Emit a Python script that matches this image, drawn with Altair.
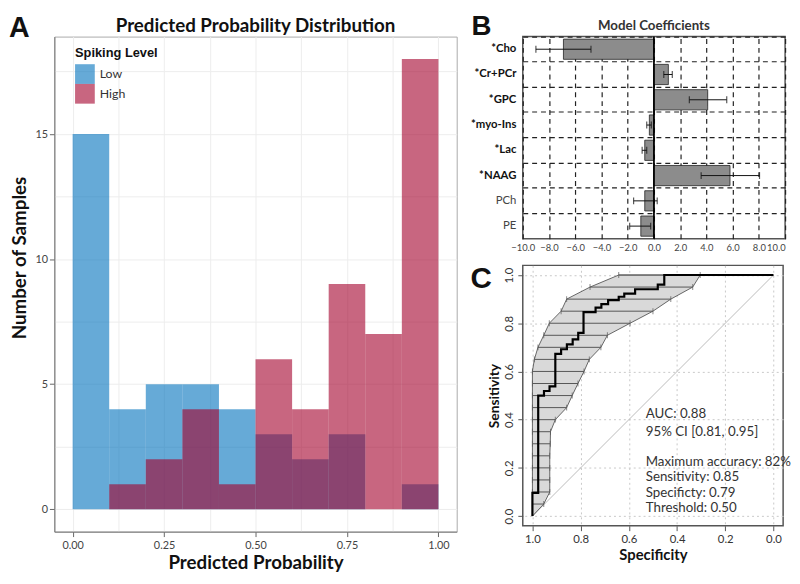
import altair as alt
import pandas as pd

# ---------------- Panel A: histogram data ----------------
bin_start = [0.0, 0.1, 0.2, 0.3, 0.4, 0.5, 0.6, 0.7, 0.8, 0.9]
bin_end = [0.1, 0.2, 0.3, 0.4, 0.5, 0.6, 0.7, 0.8, 0.9, 1.0]
low_counts = [15, 4, 5, 5, 4, 3, 2, 3, 0, 1]
high_counts = [0, 1, 2, 4, 1, 6, 4, 9, 7, 18]
levels = ["Low", "High"]
level_colors = ["#0071bc", "#a3002c"]
x_ticks_a = [0.0, 0.125, 0.25, 0.375, 0.5, 0.625, 0.75, 0.875, 1.0]
y_ticks_a = [0, 2.5, 5, 7.5, 10, 12.5, 15, 17.5]

# ---------------- Panel B: coefficients ----------------
metabolites = ["*Cho", "*Cr+PCr", "*GPC", "*myo-Ins", "*Lac", "*NAAG", "PCh", "PE"]
coefs = [-6.9, 1.1, 4.1, -0.35, -0.7, 5.8, -0.7, -1.0]
err_lo = [-9.0, 0.75, 2.7, -0.55, -0.9, 3.6, -1.55, -1.85]
err_hi = [-4.8, 1.4, 5.55, -0.2, -0.55, 8.05, 0.25, -0.25]
x_ticks_b = [-10, -8, -6, -4, -2, 0, 2, 4, 6, 8, 10]

# ---------------- Panel C: ROC ----------------
roc_spec = [1.000, 1.000, 0.976, 0.976, 0.952, 0.952, 0.929, 0.929, 0.905, 0.905,
            0.881, 0.881, 0.857, 0.857, 0.833, 0.833, 0.810, 0.810, 0.788, 0.788,
            0.738, 0.738, 0.714, 0.714, 0.686, 0.686, 0.642, 0.642, 0.619, 0.619,
            0.574, 0.574, 0.480, 0.480, 0.453, 0.453, 0.000]
roc_sens = [0.000, 0.096, 0.096, 0.500, 0.500, 0.519, 0.519, 0.538, 0.538, 0.673,
            0.673, 0.692, 0.692, 0.712, 0.712, 0.733, 0.733, 0.760, 0.760, 0.846,
            0.846, 0.865, 0.865, 0.879, 0.879, 0.896, 0.896, 0.910, 0.910, 0.923,
            0.923, 0.941, 0.941, 0.960, 0.960, 1.000, 1.000]
ci_sens = [0.00, 0.05, 0.10, 0.15, 0.20, 0.25, 0.30, 0.35, 0.40, 0.45, 0.50,
           0.55, 0.60, 0.65, 0.70, 0.75, 0.80, 0.85, 0.90, 0.95, 1.00]
ci_spec_hi = [1.0, 1.0, 1.0, 1.0, 1.0, 1.0, 1.0, 1.0, 1.0, 1.0, 1.0,
              1.0, 1.0, 0.992, 0.977, 0.953, 0.930, 0.881, 0.858, 0.761, 0.642]
ci_spec_lo = [1.0, 0.953, 0.928, 0.928, 0.928, 0.928, 0.926, 0.925, 0.905, 0.858, 0.835,
              0.811, 0.786, 0.764, 0.716, 0.689, 0.595, 0.500, 0.426, 0.335, 0.304]
ann_lines = ["AUC: 0.88", "95% CI [0.81, 0.95]", "Maximum accuracy: 82%",
             "Sensitivity: 0.85", "Specificty: 0.79", "Threshold: 0.50"]
ann_sens = [0.425, 0.350, 0.226, 0.162, 0.097, 0.034]
ann_spec = [0.53, 0.53, 0.53, 0.53, 0.53, 0.53]
ticks_c = [0.0, 0.2, 0.4, 0.6, 0.8, 1.0]

FONT = "Lato"
WA, HA = 408, 502
WB, HB = 266, 205
WC, HC = 264, 264


def label_mark(text, x, y, size, weight="bold", font="Liberation Sans",
               align="left", color="#111"):
    return alt.Chart(pd.DataFrame({"t": [text]})).mark_text(
        font=font, fontSize=size, fontWeight=weight, align=align,
        baseline="middle", color=color
    ).encode(x=alt.value(x), y=alt.value(y), text="t:N")


# ================= Panel A =================
rows = []
for lvl, counts in (("Low", low_counts), ("High", high_counts)):
    for s, e, c in zip(bin_start, bin_end, counts):
        rows.append({"start": s, "end": e, "count": c, "level": lvl})
hist_df = pd.DataFrame(rows)

hist = alt.Chart(hist_df).mark_rect(opacity=0.6).encode(
    x=alt.X("start:Q",
            scale=alt.Scale(domain=[-0.05, 1.05], nice=False, zero=False),
            axis=alt.Axis(values=x_ticks_a, title="Predicted Probability",
                          labelExpr="(datum.value*4) % 1 == 0 ? format(datum.value, '.2f') : ''",
                          tickColor={"condition": {"test": "(datum.value*4) % 1 != 0", "value": "transparent"}, "value": "#666"},
                          gridColor="#ededed", tickSize=5, labelPadding=3,
                          labelFontSize=11, labelColor="#444", domainColor="#777",
                          titleFontSize=19, titleFontWeight="bold", titleColor="#111",
                          titlePadding=3)),
    x2="end:Q",
    y=alt.Y("count:Q",
            scale=alt.Scale(domain=[-0.9, 18.9], nice=False, zero=False),
            axis=alt.Axis(values=y_ticks_a, title="Number of Samples",
                          labelExpr="datum.value % 5 == 0 ? format(datum.value, 'd') : ''",
                          tickColor={"condition": {"test": "datum.value % 5 != 0", "value": "transparent"}, "value": "#666"},
                          gridColor="#ededed", tickSize=5, labelPadding=2,
                          labelFontSize=11, labelColor="#444", domainColor="#777",
                          titleFontSize=19, titleFontWeight="bold", titleColor="#111",
                          titlePadding=5, titleY=224)),
    y2=alt.datum(0),
    color=alt.Color("level:N",
                    scale=alt.Scale(domain=levels, range=level_colors),
                    sort=levels,
                    legend=alt.Legend(title="Spiking Level", orient="none",
                                      legendX=21, legendY=11,
                                      symbolType="square", symbolSize=400,
                                      symbolOpacity=0.6, symbolStrokeWidth=0,
                                      rowPadding=0, padding=0,
                                      titleFont="Liberation Sans", titleFontSize=13,
                                      titleFontWeight="bold", titleColor="#111",
                                      titlePadding=4,
                                      labelFontSize=12.5, labelColor="#333",
                                      labelOffset=5)),
)

panel_a = alt.layer(
    hist,
    label_mark("A", -46, -9, 29),
    label_mark("Predicted Probability Distribution", WA / 2, -11, 19,
               font=FONT, align="center"),
).properties(
    width=WA, height=HA,
    view=alt.ViewBackground(stroke="#aaa", strokeWidth=1),
)

# ================= Panel B =================
coef_df = pd.DataFrame({"name": metabolites, "coef": coefs, "lo": err_lo, "hi": err_hi})
bold_test = "indexof(datum.label, '*') == 0"
ax_y_b = alt.Axis(title=None, ticks=False, domain=False, labelPadding=7,
                  labelFontSize=11.5, labelFont=FONT,
                  labelFontWeight={"condition": {"test": bold_test, "value": "bold"}, "value": "normal"},
                  labelColor={"condition": {"test": bold_test, "value": "#111"}, "value": "#444"},
                  grid=True, bandPosition=0, gridColor="#222",
                  gridDash=[5, 4], gridWidth=1.2)
ax_x_b = alt.Axis(values=x_ticks_b, format=".1f", title=None, ticks=False,
                  domain=False, labelPadding=4, labelFontSize=9.5,
                  labelColor="#444", labelFont=FONT, labelOverlap=False,
                  labelAlign={"condition": {"test": "datum.value == 10", "value": "right"}, "value": "center"},
                  grid=True, gridColor="#222", gridDash=[5, 4], gridWidth=1.2)
sc_y_b = alt.Scale(paddingInner=0, paddingOuter=0)
sc_x_b = alt.Scale(domain=[-10, 10], nice=False)


def yb():
    return alt.Y("name:N", sort=metabolites, scale=sc_y_b, axis=ax_y_b)


def xb(field):
    return alt.X(field, scale=sc_x_b, axis=ax_x_b)


bars = alt.Chart(coef_df).mark_bar(
    height=alt.RelativeBandSize(0.8), color="#8c8c8c", stroke="#222", strokeWidth=0.8
).encode(x=xb("coef:Q"), y=yb())
err_rule = alt.Chart(coef_df).mark_rule(color="#111", strokeWidth=1).encode(
    x=xb("lo:Q"), x2="hi:Q", y=yb())
cap_lo = alt.Chart(coef_df).mark_tick(color="#111", size=7, thickness=1.2, orient="vertical").encode(
    x=xb("lo:Q"), y=yb())
cap_hi = alt.Chart(coef_df).mark_tick(color="#111", size=7, thickness=1.2, orient="vertical").encode(
    x=xb("hi:Q"), y=yb())
zero_b = alt.Chart(pd.DataFrame({"z": [0]})).mark_rule(color="#000", strokeWidth=1.8).encode(
    x=xb("z:Q"))

panel_b = alt.layer(
    bars, err_rule, cap_lo, cap_hi, zero_b,
    label_mark("B", -52, -10, 28),
    label_mark("Model Coefficients", WB / 2, -11, 13.5, font=FONT, align="center",
               color="#333"),
).properties(
    width=WB, height=HB,
    view=alt.ViewBackground(stroke="#555", strokeWidth=1.5),
)

# ================= Panel C =================
sc_x_c = alt.Scale(domain=[-0.04, 1.04], reverse=True, nice=False, zero=False)
sc_y_c = alt.Scale(domain=[-0.04, 1.04], nice=False, zero=False)
ax_x_c = alt.Axis(values=ticks_c, format=".1f", title="Specificity",
                  grid=True, gridColor="#c8c8c8", gridDash=[2, 3],
                  domain=False, tickSize=5, tickColor="#555",
                  labelPadding=3, labelFontSize=11.5, labelColor="#333",
                  labelFont=FONT, titleFont=FONT, titleFontSize=15,
                  titleFontWeight="bold", titleColor="#111", titlePadding=3)
ax_y_c = alt.Axis(values=ticks_c, format=".1f", title="Sensitivity",
                  grid=True, gridColor="#c8c8c8", gridDash=[2, 3],
                  domain=False, tickSize=5, tickColor="#555",
                  labelAngle=270, labelAlign="center", labelBaseline="bottom",
                  labelPadding=3, labelFontSize=11.5, labelColor="#333",
                  labelFont=FONT, titleFont=FONT, titleFontSize=14,
                  titleFontWeight="bold", titleColor="#111", titlePadding=3)


def xc(field):
    return alt.X(field, scale=sc_x_c, axis=ax_x_c)


def yc(field):
    return alt.Y(field, scale=sc_y_c, axis=ax_y_c)


diag = alt.Chart(pd.DataFrame({"spec": [1.0, 0.0], "sens": [0.0, 1.0]})).mark_line(
    color="#bbbbbb", strokeWidth=1
).encode(x=xc("spec:Q"), y=yc("sens:Q"))

ci_df = pd.DataFrame({"sens": ci_sens, "hi": ci_spec_hi, "lo": ci_spec_lo})
band = alt.Chart(ci_df).mark_area(
    orient="horizontal", fill="#d9d9d9", stroke="#444", strokeWidth=0.8
).encode(y=yc("sens:Q"), x=xc("hi:Q"), x2="lo:Q")
ci_bars = alt.Chart(ci_df).transform_filter("datum.sens > 0").mark_rule(
    color="#555", strokeWidth=1
).encode(y=yc("sens:Q"), x=xc("hi:Q"), x2="lo:Q")
ci_cap_hi = alt.Chart(ci_df).transform_filter("datum.sens > 0").mark_tick(
    color="#555", size=6, thickness=1, orient="vertical"
).encode(y=yc("sens:Q"), x=xc("hi:Q"))
ci_cap_lo = alt.Chart(ci_df).transform_filter("datum.sens > 0").mark_tick(
    color="#555", size=6, thickness=1, orient="vertical"
).encode(y=yc("sens:Q"), x=xc("lo:Q"))

roc_df = pd.DataFrame({"spec": roc_spec, "sens": roc_sens, "idx": list(range(len(roc_spec)))})
roc = alt.Chart(roc_df).mark_line(color="#000", strokeWidth=2.2).encode(
    x=xc("spec:Q"), y=yc("sens:Q"), order="idx:Q")
ann_df = pd.DataFrame({"spec": ann_spec, "sens": ann_sens, "txt": ann_lines})
ann = alt.Chart(ann_df).mark_text(
    align="left", baseline="middle", font=FONT, fontSize=13.5, color="#333"
).encode(x=xc("spec:Q"), y=yc("sens:Q"), text="txt:N")

panel_c = alt.layer(
    diag, band, ci_bars, ci_cap_hi, ci_cap_lo, roc, ann,
    label_mark("C", -53, 14, 30),
).properties(
    width=WC, height=HC,
    view=alt.ViewBackground(stroke="#555", strokeWidth=1.5),
)

right_col = alt.vconcat(panel_b, panel_c, spacing=10)
chart = alt.hconcat(panel_a, right_col, spacing=12).properties(padding=0).configure(
    font=FONT
).configure_axis(
    labelFont=FONT, titleFont=FONT
)

chart.save("out.html", embed_options={"renderer": "svg", "actions": False})
